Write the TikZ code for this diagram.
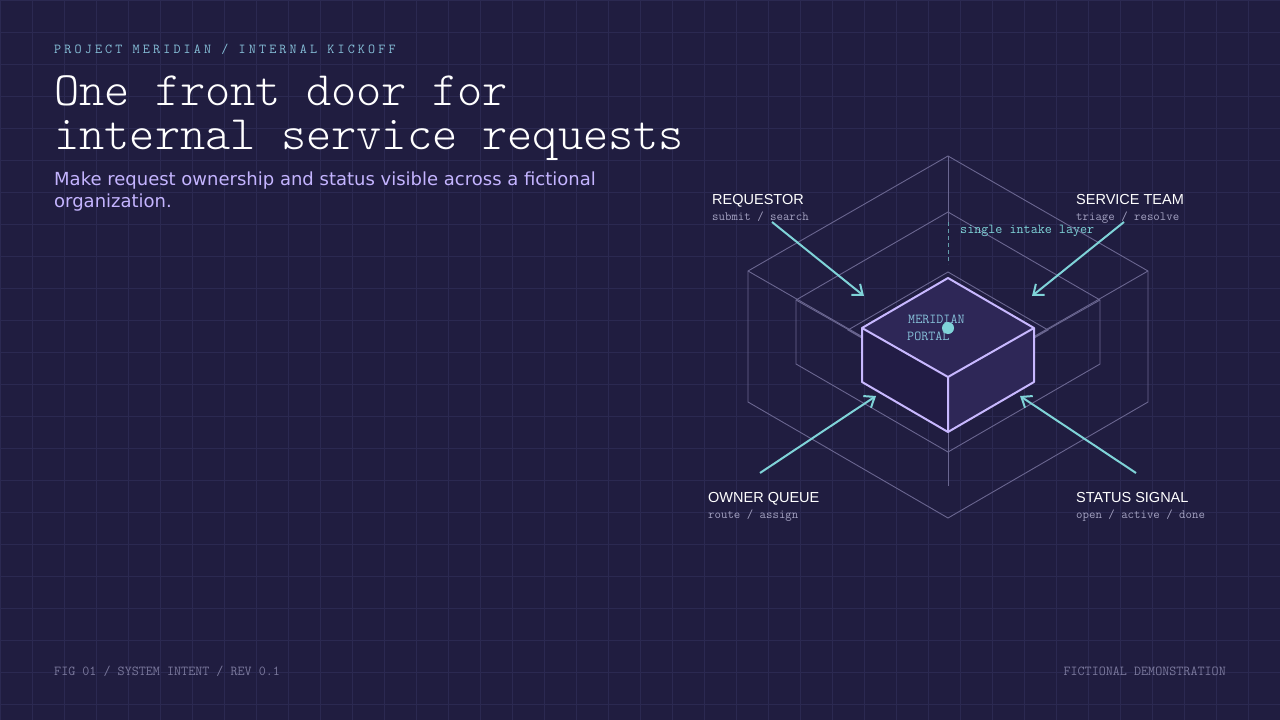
\documentclass[tikz,border=0pt]{standalone}
\usepackage{fontspec}
\setmainfont{Liberation Sans}
\setmonofont{Latin Modern Mono}
\newfontfamily\lightmono{Latin Modern Mono Light}
\newfontfamily\subfont{DejaVu Sans}
\usetikzlibrary{arrows.meta}
\definecolor{bg}{HTML}{201D40}
\definecolor{gridc}{HTML}{2B2951}
\definecolor{wire}{HTML}{6A6690}
\definecolor{edge}{HTML}{C8B8FF}
\definecolor{cyanc}{HTML}{7FD3D8}
\definecolor{topf}{HTML}{2E2757}
\definecolor{leftf}{HTML}{221C45}
\definecolor{muted}{HTML}{A4A2C2}
\definecolor{foot}{HTML}{7A789C}
\definecolor{lav}{HTML}{C4B4FF}
\definecolor{head}{HTML}{86BFD8}
\tikzset{
	txt/.style={anchor=base west,inner sep=0pt},
	role/.style={txt,text=white,font=\fontsize{14.5}{17}\selectfont},
	verb/.style={txt,text=muted,font=\ttfamily\fontsize{12.5}{14}\selectfont},
	wireline/.style={draw=wire,line width=0.9pt},
	feed/.style={draw=cyanc,line width=2pt,-{Straight Barb[length=9pt,width=14pt]}}
}
\begin{document}
\begin{tikzpicture}[x=1pt,y=-1pt]
	\fill[bg] (0,0) rectangle (1280,720);
	\useasboundingbox (0,0) rectangle (1280,720);
	\foreach \gx in {0,32,...,1280}
		\draw[gridc,line width=0.8pt] (\gx,0) -- (\gx,720);
	\foreach \gy in {0,32,...,720}
		\draw[gridc,line width=0.8pt] (0,\gy) -- (1280,\gy);
	% header
	\node[txt,text=head,font=\ttfamily\fontsize{13.7}{15}\selectfont\addfontfeature{LetterSpace=23}] (kicker) at (54,53) {PROJECT MERIDIAN / INTERNAL KICKOFF};
	\node[txt,text=white,font=\lightmono\fontsize{48}{50}\selectfont] (title1) at (54,105) {One front door for};
	\node[txt,text=white,font=\lightmono\fontsize{48}{50}\selectfont] (title2) at (54,149) {internal service requests};
	\node[txt,text=lav,font=\subfont\fontsize{18}{20}\selectfont] (sub1) at (54,185) {Make request ownership and status visible across a fictional};
	\node[txt,text=lav,font=\subfont\fontsize{18}{20}\selectfont] (sub2) at (54,207) {organization.};
	% wireframe boxes
	\coordinate (o) at (948,386);
	\draw[wireline] (948,156) -- (1148,271) -- (1148,402) -- (948,518) -- (748,402) -- (748,271) -- cycle;
	\draw[wireline] (748,271) -- (o) -- (1148,271);
	\draw[wireline] (948,212) -- (1100,300) -- (1100,364) -- (948,452) -- (796,364) -- (796,300) -- cycle;
	\draw[wireline] (796,300) -- (o) -- (1100,300);
	\draw[wireline] (948,272) -- (1048,330) -- (948,388) -- (848,330) -- cycle;
	\draw[wireline] (948,156) -- (948,222);
	\draw[wireline] (948,432) -- (948,486);
	\draw[draw=cyanc!70!bg,line width=0.9pt,dash pattern=on 4pt off 3pt] (948,222) -- (948,264);
	% portal cube
	\coordinate (ct) at (948,278);
	\coordinate (cr) at (1034,328);
	\coordinate (cf) at (948,377);
	\coordinate (cl) at (862,328);
	\coordinate (crb) at (1034,382);
	\coordinate (cfb) at (948,432);
	\coordinate (clb) at (862,382);
	\fill[topf] (ct) -- (cr) -- (cf) -- (cl) -- cycle;
	\fill[leftf] (cl) -- (cf) -- (cfb) -- (clb) -- cycle;
	\fill[topf] (cf) -- (cr) -- (crb) -- (cfb) -- cycle;
	\draw[edge,line width=2pt,line join=round] (ct) -- (cr) -- (crb) -- (cfb) -- (clb) -- (cl) -- cycle;
	\draw[edge,line width=2pt,line join=round] (cl) -- (cf) -- (cr) (cf) -- (cfb);
	\node[txt,text=head,font=\ttfamily\fontsize{13.7}{15}\selectfont] (portal1) at (908,323) {MERIDIAN};
	\node[txt,text=head,font=\ttfamily\fontsize{13.7}{15}\selectfont] (portal2) at (907,340) {PORTAL};
	\fill[cyanc] (948,328) circle (6);
	\node[txt,text=cyanc,font=\ttfamily\fontsize{13.7}{15}\selectfont] (layer) at (960,233) {single intake layer};
	% roles
	\node[role] (req) at (712,204) {REQUESTOR};
	\node[verb] (reqv) at (712,220) {submit / search};
	\node[role] (team) at (1076,204) {SERVICE TEAM};
	\node[verb] (teamv) at (1076,220) {triage / resolve};
	\node[role] (queue) at (708,502) {OWNER QUEUE};
	\node[verb] (queuev) at (708,518) {route / assign};
	\node[role] (signal) at (1076,502) {STATUS SIGNAL};
	\node[verb] (signalv) at (1076,518) {open / active / done};
	\coordinate (reqs) at (772,222);
	\coordinate (reqe) at (864,296);
	\coordinate (teams) at (1124,222);
	\coordinate (teame) at (1032,296);
	\coordinate (queues) at (760,473);
	\coordinate (queuee) at (876,396);
	\coordinate (signals) at (1136,473);
	\coordinate (signale) at (1020,396);
	\draw[feed] (reqs) -- (reqe);
	\draw[feed] (teams) -- (teame);
	\draw[feed] (queues) -- (queuee);
	\draw[feed] (signals) -- (signale);
	% footer
	\node[txt,text=foot,font=\ttfamily\fontsize{13.7}{15}\selectfont] (fig) at (54,675) {FIG 01 / SYSTEM INTENT / REV 0.1};
	\node[anchor=base east,inner sep=0pt,text=foot,font=\ttfamily\fontsize{13.7}{15}\selectfont] (demo) at (1226,675) {FICTIONAL DEMONSTRATION};
\end{tikzpicture}
\end{document}
